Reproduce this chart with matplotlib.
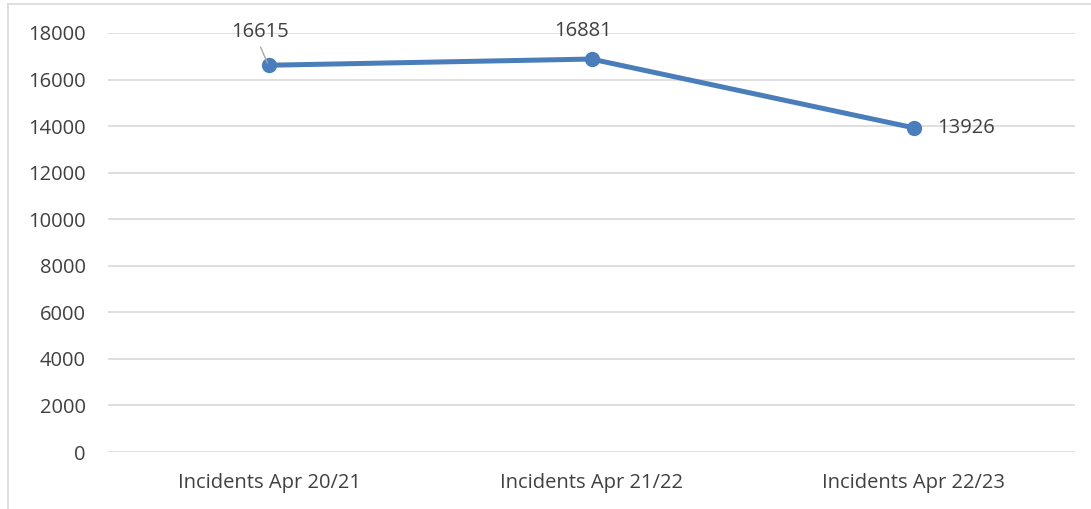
import matplotlib
matplotlib.use("Agg")
import matplotlib.pyplot as plt
from matplotlib.lines import Line2D

categories = ["Incidents Apr 20/21", "Incidents Apr 21/22", "Incidents Apr 22/23"]
values = [16615, 16881, 13926]
yticks = [0, 2000, 4000, 6000, 8000, 10000, 12000, 14000, 16000, 18000]

plt.rcParams['font.family'] = ['Open Sans', 'DejaVu Sans']
text_color = '#404040'
line_color = '#4A7EBB'
grid_color = '#D9D9D9'
fs = 14.5

fig = plt.figure(figsize=(10.91, 5.09), dpi=100)
ax = fig.add_axes([108/1091, 1-452/509, (1075-108)/1091, (452-33)/509])

x = list(range(len(categories)))
ax.plot(x, values, color=line_color, linewidth=3.6, marker='o', markersize=10,
        solid_capstyle='round', zorder=3)

ax.set_xlim(-0.5, len(categories)-0.5)
ax.set_ylim(0, 18000)
ax.set_yticks(yticks)
ax.set_yticklabels([str(t) for t in yticks])
ax.set_xticks(x)
ax.set_xticklabels(categories)
ax.tick_params(axis='both', length=0, labelsize=fs, labelcolor=text_color)
ax.tick_params(axis='y', pad=16)
ax.tick_params(axis='x', pad=15)
ax.grid(axis='y', color=grid_color, linewidth=1.2)
ax.set_axisbelow(True)
for s in ax.spines.values():
    s.set_visible(False)

# data labels
ax.annotate(str(values[0]), xy=(x[0], values[0]), xytext=(-9, 33), textcoords='offset pixels',
            ha='center', va='center', fontsize=fs, color=text_color)
ax.annotate("", xy=(x[0]-0.005, values[0]+90), xytext=(-7, 16), textcoords='offset pixels',
            arrowprops=dict(arrowstyle='-', color='#A6A6A6', lw=1, shrinkA=0, shrinkB=0))
ax.annotate(str(values[1]), xy=(x[1], values[1]), xytext=(-8, 28), textcoords='offset pixels',
            ha='center', va='center', fontsize=fs, color=text_color)
ax.annotate(str(values[2]), xy=(x[2], values[2]), xytext=(23, 0), textcoords='offset pixels',
            ha='left', va='center', fontsize=fs, color=text_color)

# chart border
fig.add_artist(Line2D([8/1091, 8/1091], [0, 1-4/509], color=grid_color, lw=1.2,
                      transform=fig.transFigure))
fig.add_artist(Line2D([8/1091, 1], [1-4/509, 1-4/509], color=grid_color, lw=1.2,
                      transform=fig.transFigure))

fig.savefig("out.png", dpi=100)
